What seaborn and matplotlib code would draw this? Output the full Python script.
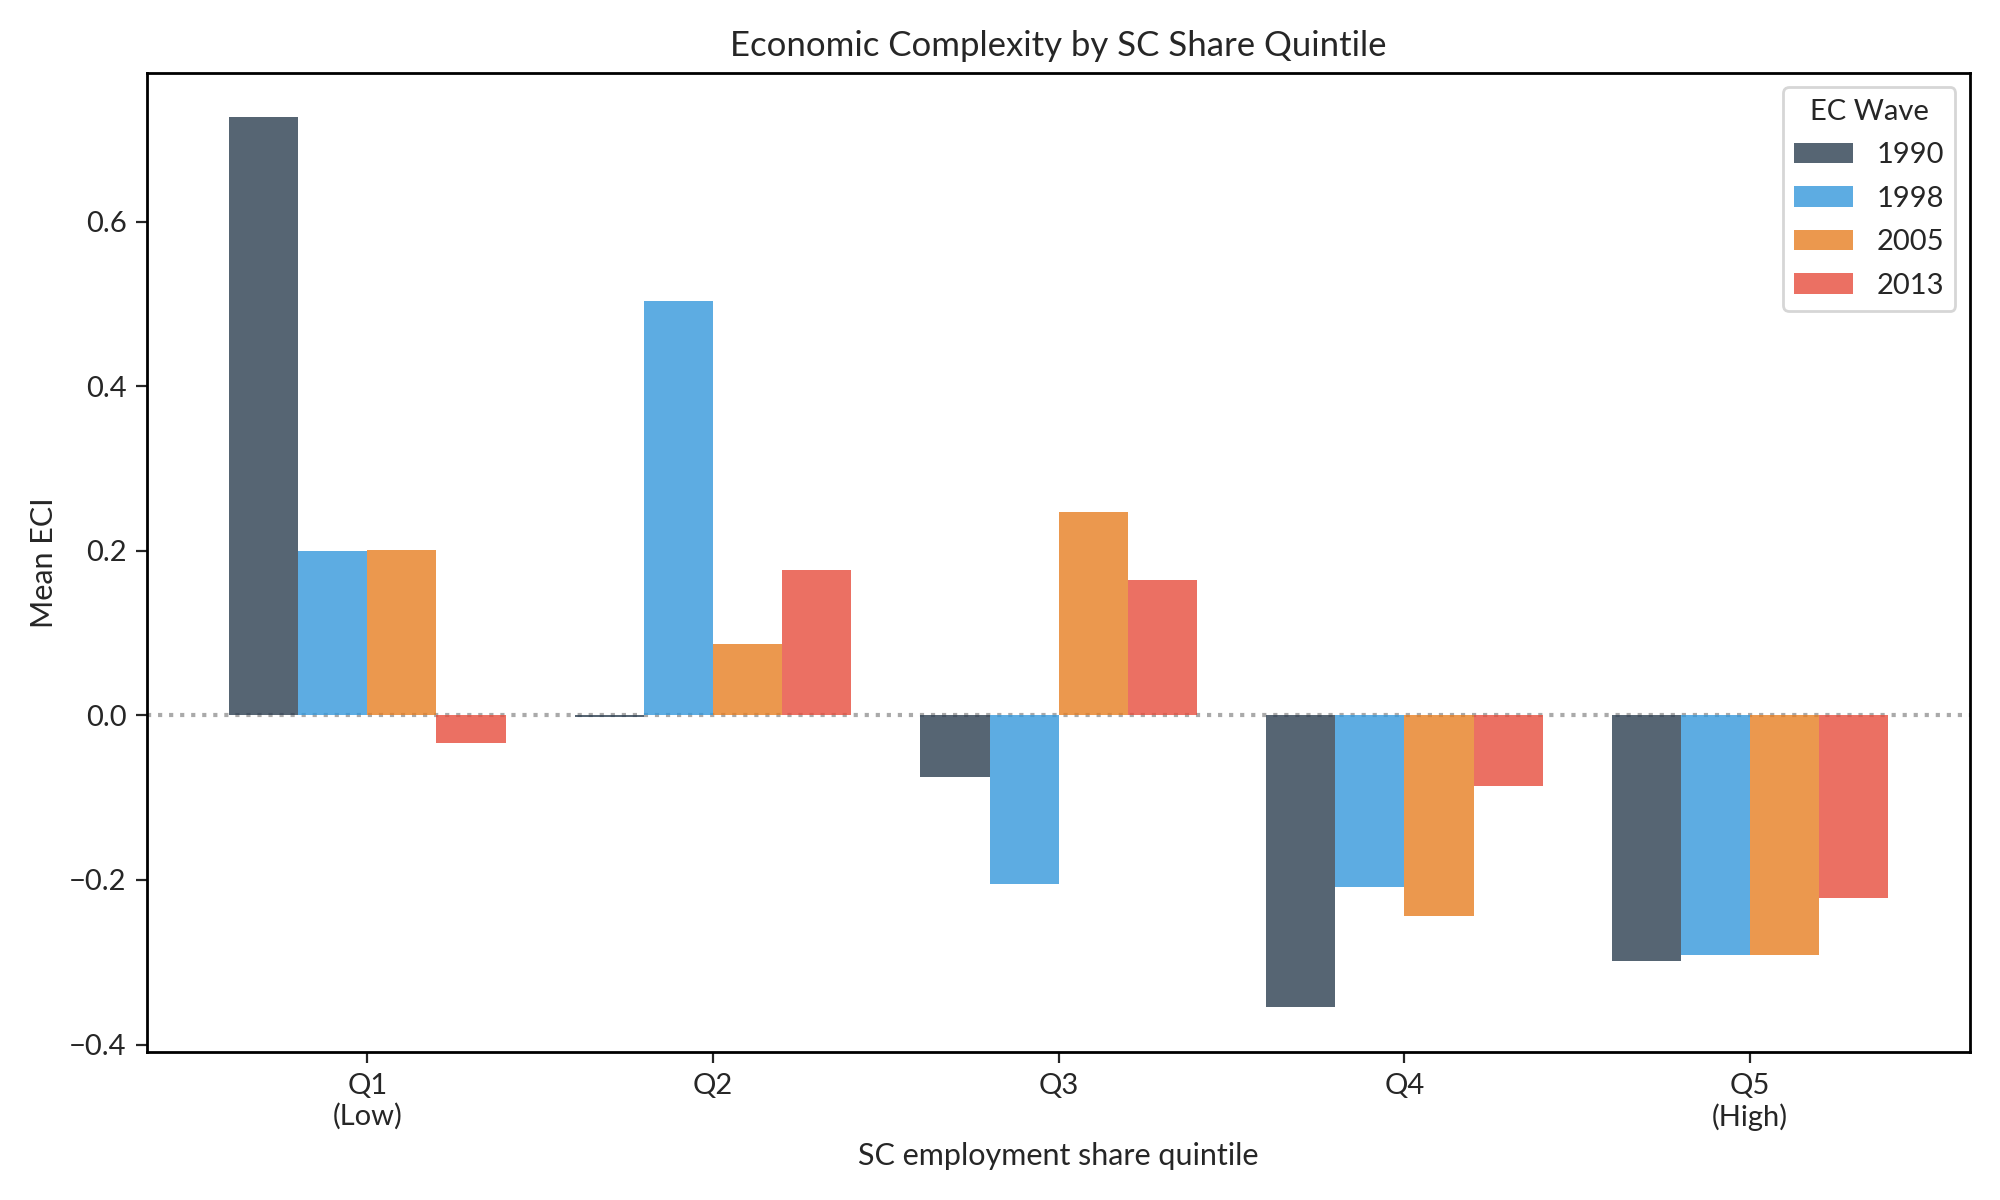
import matplotlib as mpl

mpl.use('Agg')
import pandas as pd
import matplotlib.pyplot as plt
import seaborn as sns

quintiles = ['Q1\n(Low)', 'Q2', 'Q3', 'Q4', 'Q5\n(High)']
waves = ['1990', '1998', '2005', '2013']
eci_1990 = [0.727, -0.002, -0.075, -0.355, -0.298]
eci_1998 = [0.200, 0.503, -0.205, -0.208, -0.291]
eci_2005 = [0.201, 0.087, 0.247, -0.244, -0.291]
eci_2013 = [-0.033, 0.177, 0.164, -0.086, -0.222]
colors = ['#2c3e50', '#3498db', '#e67e22', '#e74c3c']

rows = []
for wave, vals in zip(waves, [eci_1990, eci_1998, eci_2005, eci_2013]):
    for q, v in zip(quintiles, vals):
        rows.append({'quintile': q, 'wave': wave, 'eci': v})
df = pd.DataFrame(rows)

sns.set_style('white')
plt.rcParams['font.family'] = ['Lato', 'DejaVu Sans']

fig, ax = plt.subplots(figsize=(10, 6), dpi=200)

sns.barplot(data=df, x='quintile', y='eci', hue='wave', order=quintiles,
            hue_order=waves, palette=dict(zip(waves, colors)), alpha=0.8,
            saturation=1, errorbar=None, width=0.8, linewidth=0, ax=ax)

ax.axhline(0, color='#aaaaaa', ls=':', lw=1.5, zorder=0)
ax.set_xlim(-0.636, 4.636)
ax.set_ylim(-0.409, 0.781)

ax.set_title('Economic Complexity by SC Share Quintile', fontsize=12.5)
ax.set_xlabel('SC employment share quintile', fontsize=11)
ax.set_ylabel('Mean ECI', fontsize=11)
ax.tick_params(axis='both', labelsize=10.5, length=4, width=0.8, left=True,
               bottom=True)
for s in ax.spines.values():
    s.set_color('black')
    s.set_linewidth(1)

ax.legend(title='EC Wave', loc='upper right', fontsize=10.5,
          title_fontsize=10.5, labelspacing=0.6)

plt.tight_layout()
plt.savefig('out.png', dpi=200)
